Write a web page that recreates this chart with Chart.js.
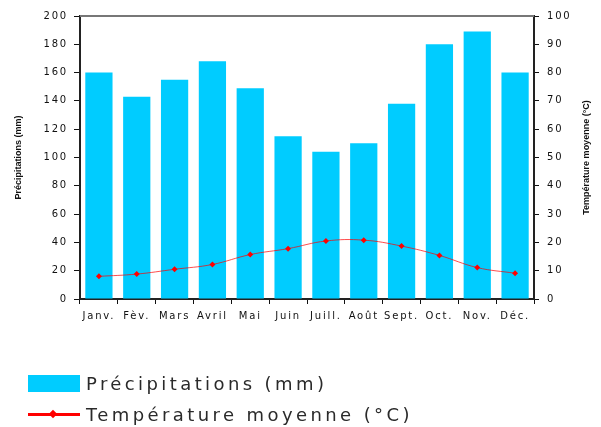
<!DOCTYPE html>
<html lang="fr">
<head>
<meta charset="utf-8">
<script src="https://cdn.jsdelivr.net/npm/chart.js@4.4.1/dist/chart.umd.min.js"></script>
<style>
  html, body { margin: 0; padding: 0; background: #fff; }
  #cadre { position: relative; width: 601px; height: 427px; overflow: hidden; }
  #legende { position: absolute; left: 28px; top: 368px; font-family: 'DejaVu Sans', sans-serif; font-size: 18px; letter-spacing: 3.4px; color: #2a2a2a; }
  .ligne { display: flex; align-items: center; height: 31px; }
  .symbole { position: relative; width: 52px; height: 17px; margin-right: 6px; }
  .boite { position: absolute; left: 0; top: 0; width: 52px; height: 17px; }
  .trait { position: absolute; left: 0; top: 7px; width: 52px; height: 3px; }
  .losange { position: absolute; left: 22px; top: 4.5px; width: 6px; height: 6px; transform: rotate(45deg); }
</style>
</head>
<body>
<div id="cadre">
  <canvas id="graphique" width="601" height="427"></canvas>
  <div id="legende"></div>
</div>
<script>
// donnees
const mois = ['Janv.', 'Fèv.', 'Mars', 'Avril', 'Mai', 'Juin', 'Juill.', 'Août', 'Sept.', 'Oct.', 'Nov.', 'Déc.'];
const precipitations = [160, 143, 155, 168, 149, 115, 104, 110, 138, 180, 189, 160];
const temperatures = [8, 8.8, 10.5, 12.2, 15.7, 17.8, 20.5, 20.8, 18.7, 15.4, 11.1, 9.1];
const graduationsMm = [0, 20, 40, 60, 80, 100, 120, 140, 160, 180, 200];
const graduationsC = [0, 10, 20, 30, 40, 50, 60, 70, 80, 90, 100];
const titreGauche = 'Précipitations (mm)';
const titreDroite = 'Température moyenne (°C)';

const bleu = '#00ccff';
const rouge = '#ff0000';

// espacement des lettres comme dans l'original
const espacement = {
  id: 'espacement',
  beforeLayout(chart) { chart.ctx.letterSpacing = '1.8px'; },
  beforeDraw(chart) { chart.ctx.letterSpacing = '1.8px'; }
};

// titres des axes + trait du haut
const decor = {
  id: 'decor',
  afterDraw(chart) {
    const { ctx, chartArea } = chart;
    ctx.save();
    ctx.strokeStyle = '#777';
    ctx.lineWidth = 2;
    ctx.beginPath();
    ctx.moveTo(chartArea.left, chartArea.top);
    ctx.lineTo(chartArea.right, chartArea.top);
    ctx.stroke();

    ctx.letterSpacing = '0px';
    ctx.font = 'bold 9px "Liberation Sans", sans-serif';
    ctx.fillStyle = '#111';
    ctx.textAlign = 'center';
    ctx.textBaseline = 'middle';
    const cy = (chartArea.top + chartArea.bottom) / 2;
    ctx.save();
    ctx.translate(chart.scales.y.left + 19, cy);
    ctx.rotate(-Math.PI / 2);
    ctx.fillText(titreGauche, 0, 0);
    ctx.restore();
    ctx.save();
    ctx.translate(chart.scales.y1.right - 14, cy);
    ctx.rotate(-Math.PI / 2);
    ctx.fillText(titreDroite, 0, 0);
    ctx.restore();
    ctx.restore();
  }
};

const policeTicks = { family: "'DejaVu Sans', sans-serif", size: 10 };

const graphique = new Chart(document.getElementById('graphique'), {
  type: 'bar',
  data: {
    labels: mois,
    datasets: [{
      type: 'bar',
      label: titreGauche,
      data: precipitations,
      backgroundColor: bleu,
      barPercentage: 0.72,
      categoryPercentage: 1,
      yAxisID: 'y',
      order: 2
    }, {
      type: 'line',
      label: titreDroite,
      data: temperatures,
      borderColor: 'rgba(255,0,0,0.7)',
      borderWidth: 1,
      tension: 0.4,
      pointStyle: 'rectRot',
      pointRadius: 3,
      pointBackgroundColor: rouge,
      pointBorderColor: rouge,
      pointBorderWidth: 0,
      yAxisID: 'y1',
      order: 1
    }]
  },
  options: {
    responsive: false,
    animation: false,
    layout: { padding: { top: 16, bottom: 0, left: 0, right: 0 } },
    plugins: {
      legend: { display: false },
      tooltip: { enabled: false }
    },
    scales: {
      x: {
        offset: true,
        grid: { offset: true, drawOnChartArea: false, tickLength: 5, color: '#111' },
        border: { color: '#222', width: 2 },
        ticks: { color: '#111', font: policeTicks, padding: 6, maxRotation: 0, autoSkip: false },
        afterFit(s) { s.height = 128; }
      },
      y: {
        position: 'left',
        min: 0,
        max: 200,
        afterBuildTicks(s) { s.ticks = graduationsMm.map(v => ({ value: v })); },
        grid: { drawOnChartArea: false, tickLength: 6, color: '#111' },
        border: { color: '#222', width: 2 },
        ticks: { color: '#111', font: policeTicks, padding: 6 },
        afterFit(s) { s.width = 80; }
      },
      y1: {
        position: 'right',
        min: 0,
        max: 100,
        afterBuildTicks(s) { s.ticks = graduationsC.map(v => ({ value: v })); },
        grid: { drawOnChartArea: false, tickLength: 5, color: '#111' },
        border: { color: '#222', width: 2 },
        ticks: { color: '#111', font: policeTicks, padding: 8 },
        afterFit(s) { s.width = 67; }
      }
    }
  },
  plugins: [espacement, decor]
});

// legende en html, sous le graphique
const legende = document.getElementById('legende');
graphique.data.datasets.forEach(ds => {
  const ligne = document.createElement('div');
  ligne.className = 'ligne';
  const symbole = document.createElement('div');
  symbole.className = 'symbole';
  if (ds.type === 'bar') {
    const b = document.createElement('div');
    b.className = 'boite';
    b.style.background = ds.backgroundColor;
    symbole.appendChild(b);
  } else {
    const t = document.createElement('div');
    t.className = 'trait';
    t.style.background = rouge;
    const l = document.createElement('div');
    l.className = 'losange';
    l.style.background = rouge;
    symbole.appendChild(t);
    symbole.appendChild(l);
  }
  const texte = document.createElement('span');
  texte.textContent = ds.label;
  ligne.appendChild(symbole);
  ligne.appendChild(texte);
  legende.appendChild(ligne);
});
</script>
</body>
</html>
